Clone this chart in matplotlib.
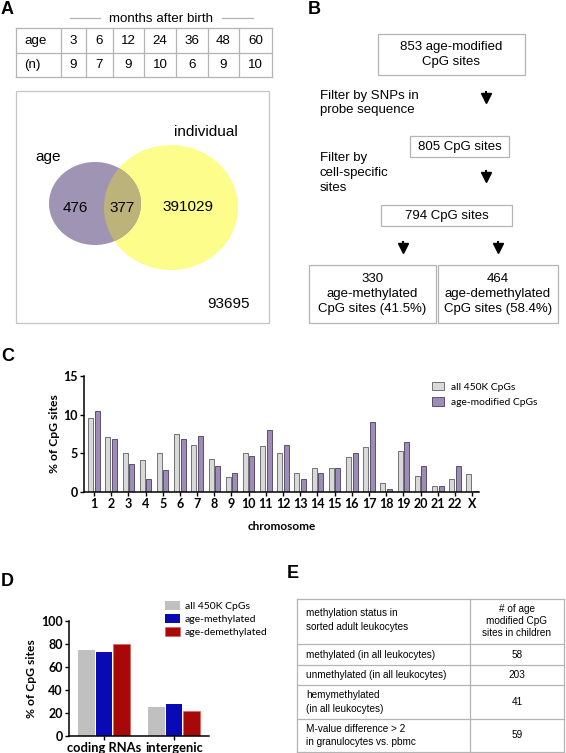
import matplotlib
matplotlib.use("Agg")
import matplotlib.pyplot as plt
from matplotlib.patches import Rectangle, Ellipse
import numpy as np

W, H = 566, 753  # output size in pixels

# ── data ──────────────────────────────────────────────────────────────────────
# A: cohort table + Venn counts
ages_months = [3, 6, 12, 24, 36, 48, 60]
n_children = [9, 7, 9, 10, 6, 9, 10]
venn_age_only = 476
venn_overlap = 377
venn_individual_only = 391029
venn_outside = 93695

# B: filtering flow
flow_counts = [853, 805, 794]
flow_filters = ["Filter by SNPs in\nprobe sequence", "Filter by\ncell-specific\nsites"]
n_methylated, n_demethylated = 330, 464
pct_methylated, pct_demethylated = 41.5, 58.4

# C: chromosome distribution (% of CpG sites)
chromosomes = [str(i) for i in range(1, 23)] + ["X"]
pct_all_450k = [9.6, 7.1, 5.05, 4.15, 5.0, 7.5, 6.1, 4.25, 1.95, 5.0, 5.9, 5.0,
                2.5, 3.1, 3.1, 4.5, 5.8, 1.2, 5.25, 2.1, 0.8, 1.7, 2.3]
pct_age_modified = [10.45, 6.9, 3.6, 1.7, 2.8, 6.9, 7.3, 3.4, 2.4, 4.65, 8.05, 6.05,
                    1.7, 2.4, 3.1, 5.1, 9.1, 0.4, 6.5, 3.3, 0.8, 3.3, 0.1]

# D: genomic context (% of CpG sites)
regions = ["coding RNAs", "intergenic"]
pct_d_all = [74.7, 25.0]
pct_d_meth = [72.7, 27.4]
pct_d_demeth = [79.7, 21.3]

# E: methylation status in sorted adult leukocytes
status_rows = ["methylated (in all leukocytes)",
               "unmethylated (in all leukocytes)",
               "hemymethylated\n(in all leukocytes)",
               "M-value difference > 2\nin granulocytes vs. pbmc"]
status_counts = [58, 203, 41, 59]

# ── style ─────────────────────────────────────────────────────────────────────
plt.rcParams["font.family"] = ["Liberation Sans", "DejaVu Sans"]
CHART_FONT = ["Lato", "DejaVu Sans"]
GRID = "#b4b4b4"


def fig_rect(x0, y0, x1, y1):
    """Pixel box (top-left origin) -> figure-fraction [l, b, w, h]."""
    return [x0 / W, 1 - y1 / H, (x1 - x0) / W, (y1 - y0) / H]


fig = plt.figure(figsize=(W / 100, H / 100), dpi=100)

# overlay in pixel coordinates for the schematic panels
ov = fig.add_axes([0, 0, 1, 1])
ov.set_xlim(0, W)
ov.set_ylim(H, 0)
ov.axis("off")


def box(x0, y0, x1, y1, ec=GRID):
    ov.add_patch(Rectangle((x0, y0), x1 - x0, y1 - y0, fill=False, ec=ec, lw=0.9))


def grid_table(xs, ys):
    for y in ys:
        ov.plot([xs[0], xs[-1]], [y, y], color=GRID, lw=0.9)
    for x in xs:
        ov.plot([x, x], [ys[0], ys[-1]], color=GRID, lw=0.9)


def style_chart(ax, tick_fs):
    for s in ("top", "right"):
        ax.spines[s].set_visible(False)
    for s in ("left", "bottom"):
        ax.spines[s].set_linewidth(1.1)
    ax.tick_params(length=3, width=1, pad=1.5)
    for t in ax.get_xticklabels() + ax.get_yticklabels():
        t.set_fontfamily(CHART_FONT)
        t.set_fontweight("bold")
        t.set_fontsize(tick_fs)


# panel letters
for letter, (x, y) in {"A": (1, 9), "B": (308, 9), "C": (1, 356),
                       "D": (1, 581), "E": (287, 574)}.items():
    ov.text(x, y, letter, fontsize=13, fontweight="bold", ha="left", va="center")

# ── A: table ──────────────────────────────────────────────────────────────────
ov.text(161, 19, "months after birth", fontsize=9.6, ha="center", va="center")
ov.plot([70, 100], [18, 18], color=GRID, lw=0.9)
ov.plot([222, 253], [18, 18], color=GRID, lw=0.9)
col_x = [16, 61, 86, 113, 144, 176, 208, 239, 272]
row_y = [28, 53, 77]
grid_table(col_x, row_y)
ov.text(24, 41, "age", fontsize=9.6, va="center")
ov.text(24, 65, "(n)", fontsize=9.6, va="center")
for i, (a, n) in enumerate(zip(ages_months, n_children)):
    cx = (col_x[i + 1] + col_x[i + 2]) / 2
    ov.text(cx, 41, str(a), fontsize=9.6, ha="center", va="center")
    ov.text(cx, 65, str(n), fontsize=9.6, ha="center", va="center")

# ── A: Venn ───────────────────────────────────────────────────────────────────
box(16, 91, 269, 323, ec="#c4c4c4")
yellow = Ellipse((171, 207.5), 134, 125, fc="#fdfd8c", ec="none")
purple = Ellipse((95, 203.5), 92, 83, fc="#a094b4", ec="none")
overlap = Ellipse((95, 203.5), 92, 83, fc="#bcb37b", ec="none")
ov.add_patch(yellow)
ov.add_patch(purple)
ov.add_patch(overlap)
overlap.set_clip_path(yellow)
ov.text(48, 157, "age", fontsize=11, ha="center", va="center")
ov.text(206, 132, "individual", fontsize=11, ha="center", va="center")
ov.text(75, 208, str(venn_age_only), fontsize=11, ha="center", va="center")
ov.text(122, 208, str(venn_overlap), fontsize=11, ha="center", va="center")
ov.text(188, 207, str(venn_individual_only), fontsize=11, ha="center", va="center")
ov.text(229, 304, str(venn_outside), fontsize=11, ha="center", va="center")

# ── B: flow chart ─────────────────────────────────────────────────────────────
fs_b = 9.5
box(378, 34, 525, 75)
ov.text(451.5, 54.5, f"{flow_counts[0]} age-modified\nCpG sites", fontsize=fs_b,
        ha="center", va="center", linespacing=1.3)
box(410, 136, 509, 157)
ov.text(459.5, 146.5, f"{flow_counts[1]} CpG sites", fontsize=fs_b, ha="center", va="center")
box(381, 205, 512, 226)
ov.text(446.5, 215.5, f"{flow_counts[2]} CpG sites", fontsize=fs_b, ha="center", va="center")
ov.text(320, 103, flow_filters[0], fontsize=fs_b, ha="left", va="center", linespacing=1.3)
ov.text(320, 173, flow_filters[1], fontsize=fs_b, ha="left", va="center", linespacing=1.3)
box(309, 265, 436, 323)
box(438, 265, 558, 323)
ov.text(372.5, 294, f"{n_methylated}\nage-methylated\nCpG sites ({pct_methylated}%)",
        fontsize=fs_b, ha="center", va="center", linespacing=1.3)
ov.text(498, 294, f"{n_demethylated}\nage-demethylated\nCpG sites ({pct_demethylated}%)",
        fontsize=fs_b, ha="center", va="center", linespacing=1.3)
for ax_, ay_ in [(486, 98), (486, 177), (403, 248), (498, 248)]:
    ov.plot([ax_], [ay_], marker="v", ms=7, color="black")
    ov.plot([ax_, ax_], [ay_ - 6, ay_ - 2], color="black", lw=1.5)

# ── E: table ──────────────────────────────────────────────────────────────────
fs_e = 7.2
e_x = [297, 470, 564]
e_y = [599, 644, 665, 685, 719, 752]
grid_table(e_x, e_y)
ov.text(306, 620, "methylation status in\nsorted adult leukocytes", fontsize=fs_e,
        va="center", linespacing=1.4)
ov.text(517, 621, "# of age\nmodified CpG\nsites in children", fontsize=fs_e,
        ha="center", va="center", linespacing=1.3)
for i, (label, count) in enumerate(zip(status_rows, status_counts)):
    cy = (e_y[i + 1] + e_y[i + 2]) / 2
    ov.text(306, cy, label, fontsize=fs_e, va="center", linespacing=1.4)
    ov.text(517, cy, str(count), fontsize=fs_e, ha="center", va="center")

# ── C: chromosome bars ────────────────────────────────────────────────────────
axc = fig.add_axes(fig_rect(84, 376, 479, 492))
x = np.arange(len(chromosomes))
bw = 0.29
axc.bar(x - 0.19, pct_all_450k, bw, color="#d9d9d9", edgecolor="#5e5e5e", lw=0.6,
        label="all 450K CpGs")
axc.bar(x + 0.19, pct_age_modified, bw, color="#9c8cb6", edgecolor="#4a3b60", lw=0.6,
        label="age-modified CpGs")
axc.set_xlim(-0.58, 22.4)
axc.set_ylim(0, 15)
axc.set_yticks([0, 5, 10, 15])
axc.set_xticks(x)
axc.set_xticklabels(chromosomes)
style_chart(axc, 9)
axc.set_ylabel("% of CpG sites", fontfamily=CHART_FONT, fontweight="bold", fontsize=8.7,
               labelpad=2)
axc.set_xlabel("chromosome", fontfamily=CHART_FONT, fontweight="bold", fontsize=8.5,
               labelpad=8)
axc.legend(loc="upper left", bbox_to_anchor=(432 / W, 1 - 382 / H),
           bbox_transform=fig.transFigure, frameon=False, borderpad=0,
           borderaxespad=0, handlelength=1.15, handleheight=0.85,
           handletextpad=0.7, labelspacing=0.55,
           prop={"family": CHART_FONT, "size": 7.4})

# ── D: genomic context bars ──────────────────────────────────────────────────
axd = fig.add_axes(fig_rect(69, 621, 209, 735.7))
xd = np.arange(len(regions))
bwd = 0.235
axd.bar(xd - 0.25, pct_d_all, bwd, color="#c0c0c0", label="all 450K CpGs")
axd.bar(xd, pct_d_meth, bwd, color="#0a0ab4", label="age-methylated")
axd.bar(xd + 0.25, pct_d_demeth, bwd, color="#a80808", edgecolor="#e06060", lw=0.5,
        label="age-demethylated")
axd.set_xlim(-0.5, 1.5)
axd.set_ylim(0, 100)
axd.set_yticks(range(0, 101, 20))
axd.set_xticks(xd)
axd.set_xticklabels(regions)
style_chart(axd, 9)
for t in axd.get_xticklabels():
    t.set_fontsize(9.3)
axd.set_ylabel("% of CpG sites", fontfamily=CHART_FONT, fontweight="bold", fontsize=8.7,
               labelpad=3)
axd.legend(loc="upper left", bbox_to_anchor=(165 / W, 1 - 601 / H),
           bbox_transform=fig.transFigure, frameon=False, borderpad=0,
           borderaxespad=0, handlelength=1.45, handleheight=0.95,
           handletextpad=0.45, labelspacing=0.3,
           prop={"family": CHART_FONT, "size": 7.5})

fig.savefig("out.png", dpi=100)
